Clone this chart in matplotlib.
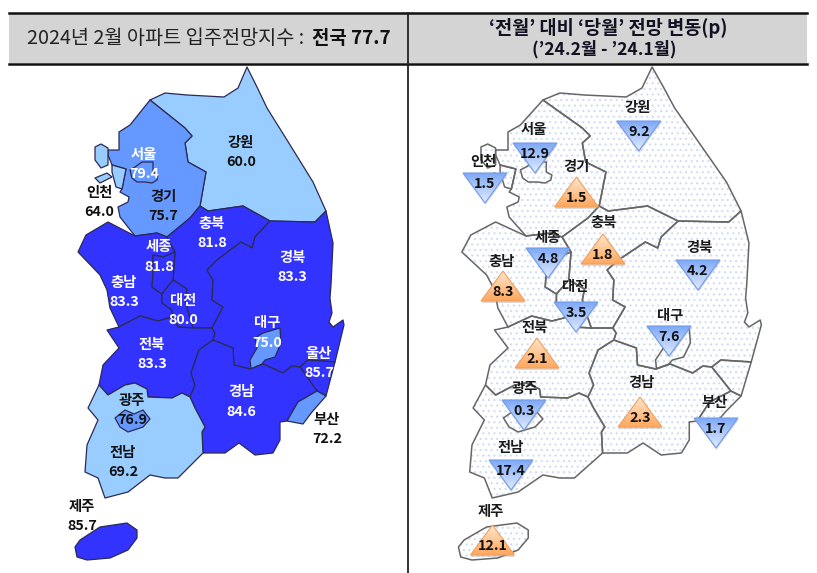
import numpy as np
import matplotlib
matplotlib.use("Agg")
import matplotlib.pyplot as plt
from matplotlib.colors import LinearSegmentedColormap
from matplotlib.patches import Polygon, Rectangle

plt.rcParams['font.family'] = ['Noto Sans CJK KR', 'DejaVu Sans']
plt.rcParams['hatch.linewidth'] = 0.8

# =========================
# Data
# =========================
regions = ['강원', '서울', '인천', '경기', '충북', '세종', '경북', '충남', '대전',
           '대구', '전북', '울산', '경남', '부산', '광주', '전남', '제주']
index_2024_02 = [60.0, 79.4, 64.0, 75.7, 81.8, 81.8, 83.3, 83.3, 80.0,
                 75.0, 83.3, 85.7, 84.6, 72.2, 76.9, 69.2, 85.7]

# no marker for 울산 on the right map
change_regions = ['강원', '서울', '인천', '경기', '충북', '세종', '경북', '충남', '대전',
                  '대구', '전북', '경남', '부산', '광주', '전남', '제주']
change_values = [-9.2, -12.9, -1.5, 1.5, 1.8, -4.8, -4.2, 8.3, -3.5,
                 -7.6, 2.1, 2.3, -1.7, -0.3, -17.4, 12.1]

national_index = 77.7

# map outlines, traced in pixels from the left map
shapes = {
    '강원': [(150,100),(165,93),(187,95),(224,97),(238,88),(247,67),(257,87),(267,108),(287,140),(313,182),
             (326,211),(315,222),(270,221),(243,206),(208,211),(200,206),(206,172),(188,162),(185,143),
             (192,136),(185,128)],
    '경기': [(150,100),(185,128),(192,136),(185,143),(188,162),(206,172),(200,206),(190,218),(167,237),
             (157,233),(135,236),(120,217),(118,207),(128,202),(129,197),(120,192),(122,189),(126,169),
             (112,165),(108,155),(108,150),(119,150),(119,132),(130,125)],
    '인천': [(112,165),(126,169),(122,189),(116,187),(112,172)],
    '인천섬1': [(95,147),(101,144),(108,148),(108,165),(101,168),(95,160)],
    '인천섬2': [(95,178),(107,173),(112,177),(100,183)],
    '서울': [(130,170),(135,167),(142,162),(153,162),(153,172),(158,175),(157,180),(152,183),(145,182),
             (137,182),(132,178)],
    '충북': [(200,206),(208,211),(243,206),(270,221),(255,237),(252,248),(241,242),(217,260),(207,270),
             (213,280),(212,300),(223,307),(212,328),(193,328),(189,315),(185,300),(187,289),(173,280),
             (175,252),(167,237),(190,218)],
    '세종': [(153,255),(163,257),(175,252),(173,280),(162,294),(152,287),(153,273)],
    '대전': [(173,280),(187,289),(185,300),(189,315),(193,328),(178,327),(172,317),(172,310),(162,303),(162,294)],
    '충남': [(78,252),(86,235),(108,222),(135,236),(157,233),(167,237),(175,252),(163,257),(153,255),(153,273),
             (152,287),(162,294),(162,303),(172,310),(172,317),(158,321),(140,316),(119,327),(110,308),
             (107,290),(100,275)],
    '전북': [(107,330),(119,327),(140,316),(158,321),(172,317),(178,327),(193,328),(212,328),(215,333),(213,340),
             (199,350),(191,373),(195,385),(190,397),(182,393),(172,398),(148,397),(147,389),(135,383),
             (125,385),(108,395),(99,385),(103,365),(119,348)],
    '경북': [(326,211),(333,243),(331,285),(330,298),(332,313),(329,322),(333,327),(343,320),(344,325),(335,362),
             (308,360),(300,367),(292,366),(283,373),(263,364),(250,369),(234,365),(233,348),(213,340),(215,333),
             (212,328),(223,307),(212,300),(213,280),(207,270),(217,260),(241,242),(252,248),(255,237),(270,221),
             (315,222)],
    '대구': [(251,369),(250,360),(257,348),(255,338),(263,333),(280,328),(281,343),(275,357),(265,360),(262,364)],
    '울산': [(300,367),(308,360),(335,362),(326,396),(317,391)],
    '경남': [(213,340),(233,348),(234,365),(250,369),(263,364),(283,373),(292,366),(300,367),(317,391),(298,402),
             (287,421),(280,422),(280,440),(273,453),(255,455),(239,443),(225,453),(203,453),(202,432),
             (205,427),(195,408),(190,397),(195,385),(191,373),(199,350)],
    '부산': [(317,391),(326,396),(312,412),(303,424),(287,421),(298,402)],
    '전남': [(99,385),(108,395),(125,385),(135,383),(147,389),(148,397),(172,398),(182,393),(190,397),(195,408),
             (205,427),(202,432),(203,453),(178,478),(165,478),(150,475),(128,492),(105,498),(98,478),
             (85,472),(87,445),(98,420),(88,408)],
    '광주': [(115,418),(125,410),(134,414),(143,410),(150,419),(143,427),(128,432),(120,427)],
    '제주': [(75,547),(80,540),(100,527),(127,523),(137,530),(137,538),(128,550),(110,558),(87,560),(77,557)],
}
draw_order = ['강원', '경기', '인천', '인천섬1', '인천섬2', '서울', '충남', '충북', '세종', '대전', '전북',
              '경북', '대구', '울산', '경남', '부산', '전남', '광주', '제주']

# left map label centres: name y, value y
left_x = [241, 144, 99, 163, 212, 159, 292, 124, 183, 267, 152, 319, 241, 327, 132, 123, 82]
left_name_y = [143, 155, 193, 197, 224, 247, 258, 283, 301, 323, 345, 354, 392, 420, 401, 453, 507]
left_value_y = [162, 174, 212, 216, 243, 267, 277, 302, 320, 343, 364, 373, 412, 439, 420, 472, 526]
black_text = ['강원', '인천', '경기', '부산', '광주', '전남', '제주']

# right map marker positions
tri_x = [638.7, 535, 485, 576.5, 603, 548, 698, 503, 576, 669, 537, 640, 716, 524, 511, 492.5]
tri_top = [121, 143, 173, 177, 234, 248, 260, 271, 302, 326, 338, 397, 418, 400, 460, 525]
name_x = [638, 534, 483, 576, 604, 548, 699, 502, 575, 670, 535, 641, 715, 525, 511, 491]
name_y = [108, 130, 162, 167, 223, 238, 248, 262, 287, 316, 328, 383, 403, 389, 448, 512]

DARK = '#3333FF'
MID = '#6699FF'
LIGHT = '#99CCFF'


def index_color(v):
    if v >= 80:
        return DARK
    if v >= 70:
        return MID
    return LIGHT


def to_right(pts):
    # right map is the same outline stretched sideways
    arr = np.array(pts, dtype=float)
    arr[:, 0] = arr[:, 0] * 1.126 + 374
    return arr


fig = plt.figure(figsize=(8.17, 5.73), dpi=100)
ax = fig.add_axes([0, 0, 1, 1])
ax.set_xlim(0, 817)
ax.set_ylim(573, 0)
ax.axis('off')

# =========================
# Header
# =========================
ax.add_patch(Rectangle((9, 13), 798, 50, facecolor='#D4D4D4', edgecolor='none', zorder=1))
ax.plot([9, 807], [13, 13], color='#111111', lw=1.8, zorder=2)
ax.plot([9, 807], [63.5, 63.5], color='#111111', lw=1.8, zorder=2)
ax.plot([408, 408], [13, 573], color='#222222', lw=1.3, zorder=2)

ax.text(304, 38, '2024년 2월 아파트 입주전망지수 :', ha='right', va='center', fontsize=14.2, color='#222222')
ax.text(312, 38, f'전국 {national_index}', ha='left', va='center', fontsize=13.6, fontweight='bold', color='#111111')
ax.text(608, 28, '‘전월’ 대비 ‘당월’ 전망 변동(p)', ha='center', va='center', fontsize=13.4, fontweight='bold', color='#111122')
ax.text(604, 49, '(’24.2월 - ’24.1월)', ha='center', va='center', fontsize=12.6, fontweight='bold', color='#111122')

# =========================
# Left map
# =========================
values = dict(zip(regions, index_2024_02))
for name in draw_order:
    key = name[:2]
    ax.add_patch(Polygon(shapes[name], closed=True, facecolor=index_color(values[key]),
                         edgecolor='#2A2A55', lw=0.9, joinstyle='round', zorder=3))

for i, name in enumerate(regions):
    color = '#111111' if name in black_text else 'white'
    ax.text(left_x[i], left_name_y[i], name, ha='center', va='center', fontsize=10.3,
            fontweight='bold', color=color, zorder=6)
    ax.text(left_x[i], left_value_y[i], f'{index_2024_02[i]:.1f}', ha='center', va='center', fontsize=10.3,
            fontweight='bold', color=color, zorder=6)

# =========================
# Right map
# =========================
for name in draw_order:
    pts = to_right(shapes[name])
    ax.add_patch(Polygon(pts, closed=True, facecolor='white', edgecolor='#CFDCF5', hatch='...',
                         lw=0, zorder=3))
for name in draw_order:
    pts = to_right(shapes[name])
    ax.add_patch(Polygon(pts, closed=True, facecolor='none', edgecolor='#666666', lw=1.1,
                         joinstyle='round', zorder=4))

down_cmap = LinearSegmentedColormap.from_list('down', ['#7FA9F7', '#E2ECFF'])
up_cmap = LinearSegmentedColormap.from_list('up', ['#FFE6CC', '#FFA85E'])
gradient = np.linspace(0, 1, 64).reshape(-1, 1)

for i, name in enumerate(change_regions):
    cx, top = tri_x[i], tri_top[i]
    v = change_values[i]
    if v < 0:
        tri = [(cx - 22, top), (cx + 22, top), (cx, top + 30)]
        cmap = down_cmap
        edge = '#6F9BE8'
        val_y = top + 11
    else:
        tri = [(cx, top), (cx + 22, top + 30), (cx - 22, top + 30)]
        cmap = up_cmap
        edge = '#F0A060'
        val_y = top + 21
    shadow = [(x + 0.5, y + 2) for x, y in tri]
    ax.add_patch(Polygon(shadow, closed=True, facecolor='#999999', edgecolor='none', alpha=0.35, zorder=5))
    im = ax.imshow(gradient, cmap=cmap, aspect='auto', extent=(cx - 22, cx + 22, top + 30, top), zorder=6)
    patch = Polygon(tri, closed=True, facecolor='none', edgecolor=edge, lw=0.8, zorder=7)
    ax.add_patch(patch)
    im.set_clip_path(patch)
    ax.text(name_x[i], name_y[i], name, ha='center', va='center', fontsize=10.3, fontweight='bold',
            color='#1A1A1A', zorder=8)
    ax.text(cx, val_y, f'{abs(v):.1f}', ha='center', va='center', fontsize=10.3, fontweight='bold',
            color='#111111', zorder=8)

ax.set_xlim(0, 817)
ax.set_ylim(573, 0)
fig.savefig('out.png', dpi=100)
